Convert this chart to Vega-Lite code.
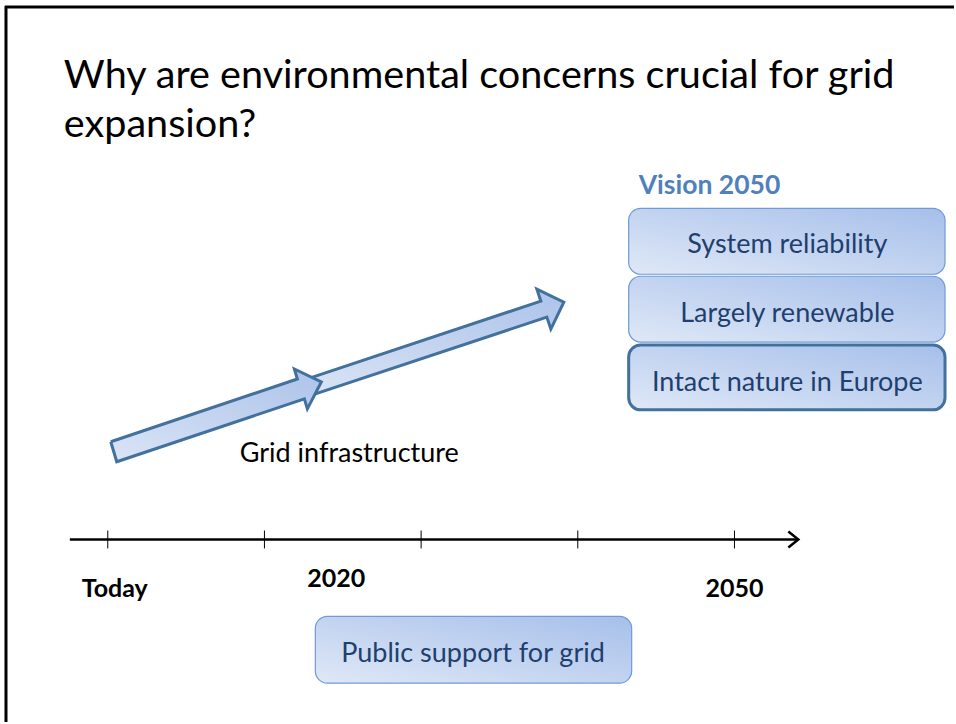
{
  "$schema": "https://vega.github.io/schema/vega-lite/v6.json",
  "autosize": {"type": "fit", "contains": "padding"},
  "width": 956,
  "height": 724,
  "padding": 0,
  "background": "white",
  "config": {"view": {"stroke": null}},
  "datasets": {
    "border": [
      {"x": 5, "x2": 956, "y": 7, "y2": 7},
      {"x": 6, "x2": 6, "y": 6, "y2": 724}
    ],
    "polys": [
      {"shape": "arrow2", "seq": 1, "x": 305, "y": 381},
      {"shape": "arrow2", "seq": 2, "x": 542, "y": 302},
      {"shape": "arrow2", "seq": 3, "x": 538, "y": 290},
      {"shape": "arrow2", "seq": 4, "x": 565, "y": 303},
      {"shape": "arrow2", "seq": 5, "x": 552, "y": 330},
      {"shape": "arrow2", "seq": 6, "x": 548, "y": 318},
      {"shape": "arrow2", "seq": 7, "x": 310, "y": 397},
      {"shape": "arrow2", "seq": 8, "x": 305, "y": 381},
      {"shape": "arrow1", "seq": 1, "x": 111, "y": 443},
      {"shape": "arrow1", "seq": 2, "x": 298, "y": 380},
      {"shape": "arrow1", "seq": 3, "x": 295, "y": 370},
      {"shape": "arrow1", "seq": 4, "x": 322, "y": 383},
      {"shape": "arrow1", "seq": 5, "x": 308, "y": 410},
      {"shape": "arrow1", "seq": 6, "x": 305, "y": 400},
      {"shape": "arrow1", "seq": 7, "x": 117, "y": 463},
      {"shape": "arrow1", "seq": 8, "x": 111, "y": 443},
      {"shape": "chevron", "seq": 1, "x": 790, "y": 533},
      {"shape": "chevron", "seq": 2, "x": 800, "y": 541},
      {"shape": "chevron", "seq": 3, "x": 790, "y": 549}
    ],
    "boxes": [
      {"label": "System reliability", "kind": "thin", "x": 630, "x2": 947, "y": 209, "y2": 275},
      {"label": "Largely renewable", "kind": "thin", "x": 630, "x2": 947, "y": 277, "y2": 343},
      {"label": "Intact nature in Europe", "kind": "thick", "x": 630, "x2": 947, "y": 346, "y2": 411},
      {"label": "Public support for grid", "kind": "thin", "x": 316, "x2": 633, "y": 618, "y2": 685}
    ],
    "timeline": [
      {"kind": "axis", "x": 70, "x2": 799, "y": 541, "y2": 541},
      {"kind": "tick", "x": 108, "x2": 108, "y": 532, "y2": 550},
      {"kind": "tick", "x": 265, "x2": 265, "y": 532, "y2": 550},
      {"kind": "tick", "x": 422, "x2": 422, "y": 532, "y2": 550},
      {"kind": "tick", "x": 579, "x2": 579, "y": 532, "y2": 550},
      {"kind": "tick", "x": 736, "x2": 736, "y": 532, "y2": 550}
    ],
    "texts": [
      {"style": "title", "text": "Why are environmental concerns crucial for grid", "x": 64, "y": 88},
      {"style": "title", "text": "expansion?", "x": 64, "y": 137},
      {"style": "vision", "text": "Vision 2050", "x": 640, "y": 195},
      {"style": "box", "text": "System reliability", "x": 789, "y": 246},
      {"style": "box", "text": "Largely renewable", "x": 789, "y": 315},
      {"style": "box", "text": "Intact nature in Europe", "x": 789, "y": 384},
      {"style": "box", "text": "Public support for grid", "x": 474, "y": 656},
      {"style": "plain", "text": "Grid infrastructure", "x": 350, "y": 455},
      {"style": "year", "text": "Today", "x": 115, "y": 599},
      {"style": "year", "text": "2020", "x": 337, "y": 589},
      {"style": "year", "text": "2050", "x": 736, "y": 599}
    ]
  },
  "encoding": {
    "x": {"field": "x", "type": "quantitative", "scale": {"domain": [0, 956], "nice": false, "zero": false}, "axis": null},
    "y": {"field": "y", "type": "quantitative", "scale": {"domain": [0, 724], "nice": false, "zero": false, "reverse": true}, "axis": null}
  },
  "layer": [
    {
      "data": {"name": "border"},
      "mark": {"type": "rule", "color": "black", "strokeWidth": 3},
      "encoding": {"x2": {"field": "x2"}, "y2": {"field": "y2"}}
    },
    {
      "data": {"name": "polys"},
      "transform": [{"filter": "datum.shape === 'arrow2'"}],
      "mark": {
        "type": "line", "stroke": "#41719C", "strokeWidth": 3, "strokeJoin": "miter",
        "fill": {"gradient": "linear", "x1": 0, "y1": 1, "x2": 1, "y2": 0,
          "stops": [{"offset": 0, "color": "#dae4f5"}, {"offset": 1, "color": "#adc3ea"}]}
      },
      "encoding": {"order": {"field": "seq", "type": "quantitative"}}
    },
    {
      "data": {"name": "polys"},
      "transform": [{"filter": "datum.shape === 'arrow1'"}],
      "mark": {
        "type": "line", "stroke": "#41719C", "strokeWidth": 3, "strokeJoin": "miter",
        "fill": {"gradient": "linear", "x1": 0, "y1": 1, "x2": 1, "y2": 0,
          "stops": [{"offset": 0, "color": "#dae4f5"}, {"offset": 1, "color": "#adc3ea"}]}
      },
      "encoding": {"order": {"field": "seq", "type": "quantitative"}}
    },
    {
      "data": {"name": "boxes"},
      "transform": [{"filter": "datum.kind === 'thin'"}],
      "mark": {
        "type": "rect", "cornerRadius": 12, "stroke": "#6f9bd6", "strokeWidth": 1.2,
        "fill": {"gradient": "linear", "x1": 0, "y1": 1, "x2": 1, "y2": 0,
          "stops": [{"offset": 0, "color": "#dfe8f7"}, {"offset": 1, "color": "#a6bfea"}]}
      },
      "encoding": {"x2": {"field": "x2"}, "y2": {"field": "y2"}}
    },
    {
      "data": {"name": "boxes"},
      "transform": [{"filter": "datum.kind === 'thick'"}],
      "mark": {
        "type": "rect", "cornerRadius": 12, "stroke": "#41719C", "strokeWidth": 3,
        "fill": {"gradient": "linear", "x1": 0, "y1": 1, "x2": 1, "y2": 0,
          "stops": [{"offset": 0, "color": "#dfe8f7"}, {"offset": 1, "color": "#a6bfea"}]}
      },
      "encoding": {"x2": {"field": "x2"}, "y2": {"field": "y2"}}
    },
    {
      "data": {"name": "timeline"},
      "transform": [{"filter": "datum.kind === 'axis'"}],
      "mark": {"type": "rule", "color": "black", "strokeWidth": 2.5},
      "encoding": {"x2": {"field": "x2"}, "y2": {"field": "y2"}}
    },
    {
      "data": {"name": "timeline"},
      "transform": [{"filter": "datum.kind === 'tick'"}],
      "mark": {"type": "rule", "color": "black", "strokeWidth": 1},
      "encoding": {"x2": {"field": "x2"}, "y2": {"field": "y2"}}
    },
    {
      "data": {"name": "polys"},
      "transform": [{"filter": "datum.shape === 'chevron'"}],
      "mark": {"type": "line", "color": "black", "strokeWidth": 2.5, "strokeJoin": "miter"},
      "encoding": {"order": {"field": "seq", "type": "quantitative"}}
    },
    {
      "data": {"name": "texts"},
      "transform": [{"filter": "datum.style === 'title'"}],
      "mark": {"type": "text", "align": "left", "baseline": "alphabetic", "font": "Lato", "fontSize": 39.6, "color": "black"},
      "encoding": {"text": {"field": "text"}}
    },
    {
      "data": {"name": "texts"},
      "transform": [{"filter": "datum.style === 'vision'"}],
      "mark": {"type": "text", "align": "left", "baseline": "alphabetic", "font": "Lato", "fontSize": 26.5, "fontWeight": "bold", "color": "#4F81BD"},
      "encoding": {"text": {"field": "text"}}
    },
    {
      "data": {"name": "texts"},
      "transform": [{"filter": "datum.style === 'box'"}],
      "mark": {"type": "text", "align": "center", "baseline": "middle", "font": "Lato", "fontSize": 27, "color": "#1f3f6e"},
      "encoding": {"text": {"field": "text"}}
    },
    {
      "data": {"name": "texts"},
      "transform": [{"filter": "datum.style === 'plain'"}],
      "mark": {"type": "text", "align": "center", "baseline": "middle", "font": "Lato", "fontSize": 27, "color": "black"},
      "encoding": {"text": {"field": "text"}}
    },
    {
      "data": {"name": "texts"},
      "transform": [{"filter": "datum.style === 'year'"}],
      "mark": {"type": "text", "align": "center", "baseline": "alphabetic", "font": "Lato", "fontSize": 25, "fontWeight": "bold", "color": "black"},
      "encoding": {"text": {"field": "text"}}
    }
  ]
}
